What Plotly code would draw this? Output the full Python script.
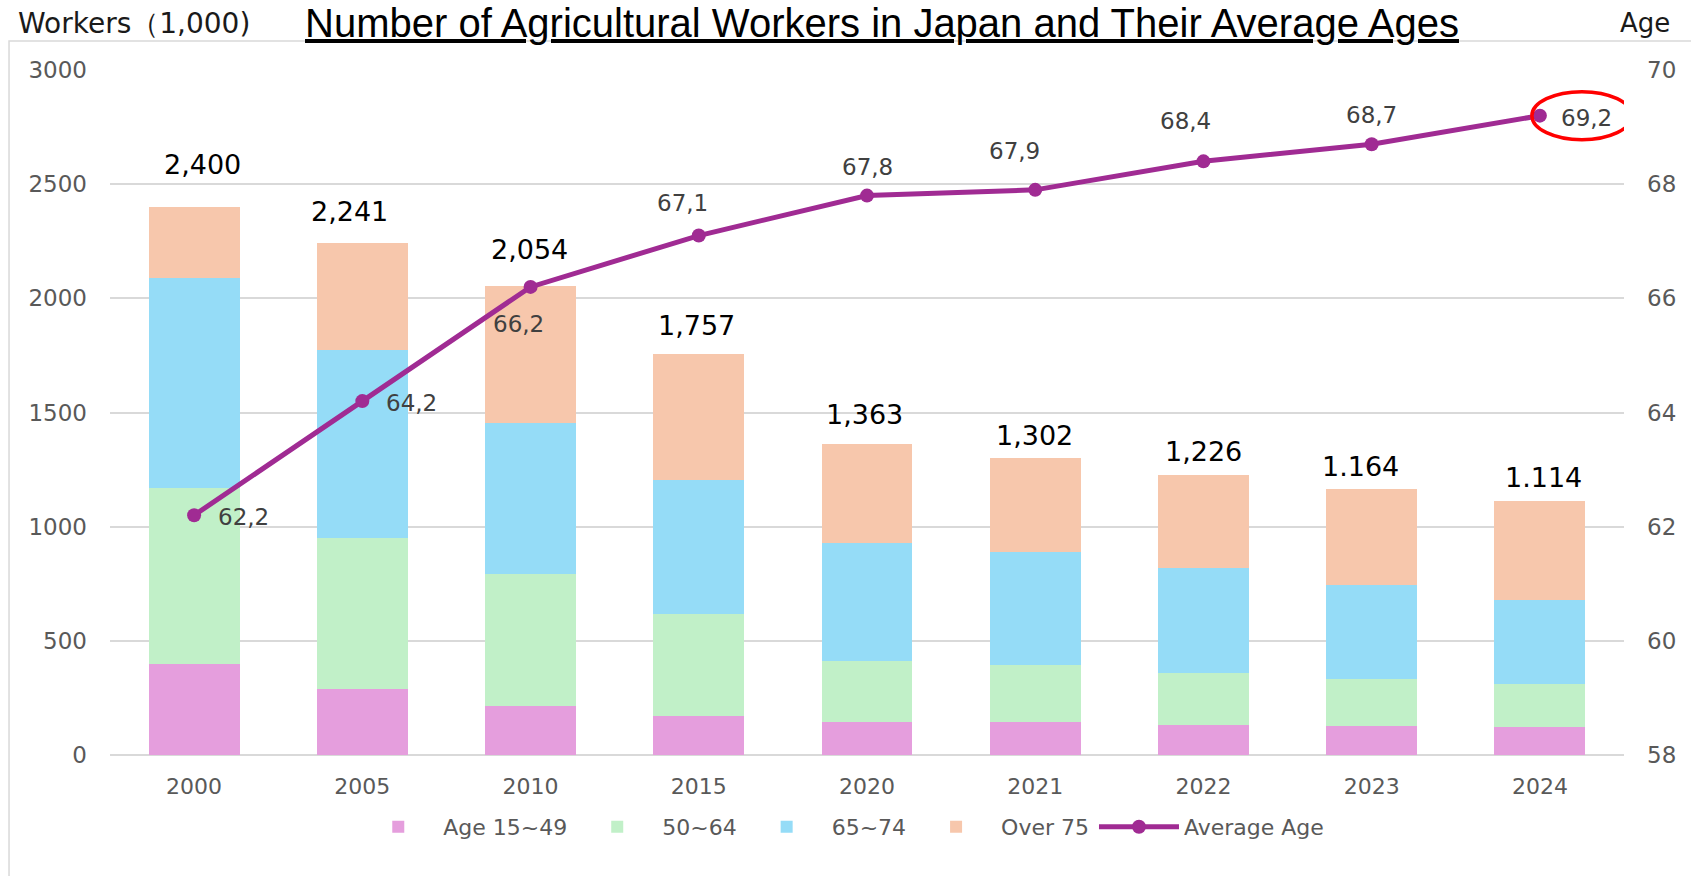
import plotly.graph_objects as go

years = ["2000", "2005", "2010", "2015", "2020", "2021", "2022", "2023", "2024"]

# workers by age band (1,000 people)
age_15_49 = [400, 291, 214, 173, 146, 145, 133, 127, 123]
age_50_64 = [770, 660, 577, 444, 267, 250, 228, 208, 188]
age_65_74 = [919, 822, 664, 589, 514, 493, 457, 410, 368]
age_75_up = [311, 468, 599, 551, 436, 414, 408, 419, 435]
total_labels = ["2,400", "2,241", "2,054", "1,757", "1,363", "1,302", "1,226", "1.164", "1.114"]

avg_age = [62.2, 64.2, 66.2, 67.1, 67.8, 67.9, 68.4, 68.7, 69.2]

# label nudges in pixels (x, y) - the original labels were hand placed
total_shift = [(8, 43), (-13, 32), (-1, 37), (-2, 28), (-3, 29), (-1, 22), (0, 24), (-11, 23), (4, 23)]
age_shift = [(49, -2), (49, -2), (-12, -37), (-16, 33), (0, 29), (-21, 39), (-18, 40), (0, 29), (47, -2)]

FONT = "DejaVu Sans"
GRID = "#D9D9D9"
TICK = "#595959"

fig = go.Figure()

bands = [
    ("Age 15~49", age_15_49, "#E59EDD"),
    ("50~64", age_50_64, "#C1F0C8"),
    ("65~74", age_65_74, "#95DCF7"),
    ("Over 75", age_75_up, "#F7C7AC"),
]
for name, vals, color in bands:
    fig.add_trace(go.Bar(
        x=years, y=vals, name=name,
        marker=dict(color=color, line=dict(width=0)),
        hoverinfo="skip",
    ))

fig.add_trace(go.Scatter(
    x=years, y=avg_age, name="Average Age", yaxis="y2",
    mode="lines+markers",
    line=dict(color="#A02B93", width=5),
    marker=dict(color="#A02B93", size=14),
))

# category axis with numeric-looking names -> annotations use the category index
totals = [sum(v) for v in zip(age_15_49, age_50_64, age_65_74, age_75_up)]
annotations = []
for i, (tot, lab, (dx, dy)) in enumerate(zip(totals, total_labels, total_shift)):
    annotations.append(dict(
        x=i, y=tot, xref="x", yref="y", text=lab, showarrow=False,
        xshift=dx, yshift=dy, xanchor="center", yanchor="middle",
        font=dict(family=FONT, size=27, color="#000000"),
    ))
for i, (a, (dx, dy)) in enumerate(zip(avg_age, age_shift)):
    annotations.append(dict(
        x=i, y=a, xref="x", yref="y2", text=f"{a:.1f}".replace(".", ","),
        showarrow=False, xshift=dx, yshift=dy, xanchor="center", yanchor="middle",
        font=dict(family=FONT, size=23, color="#404040"),
    ))

annotations.append(dict(
    x=-0.062, y=1.068, xref="paper", yref="paper", text="Workers（1,000)",
    showarrow=False, xanchor="left", yanchor="middle",
    font=dict(family=FONT, size=28, color="#1A1A1A"),
))
annotations.append(dict(
    x=1.0317, y=1.068, xref="paper", yref="paper", text="Age",
    showarrow=False, xanchor="right", yanchor="middle",
    font=dict(family=FONT, size=26, color="#1A1A1A"),
))

shapes = [
    # light frame around the chart
    dict(type="rect", xref="paper", yref="paper", x0=-0.0667, x1=1.2, y0=-0.5, y1=1.0423,
         line=dict(color=GRID, width=1.5), layer="below"),
    # red ellipse highlighting the latest average age
    dict(type="circle", xref="x", yref="y2",
         xsizemode="pixel", ysizemode="pixel",
         xanchor=years.index("2024"), yanchor=avg_age[-1],
         x0=-8, x1=92, y0=-24, y1=24,
         line=dict(color="#FF0000", width=3.5)),
]

fig.update_layout(
    width=1691, height=876,
    barmode="stack", bargap=0.46,
    paper_bgcolor="#FFFFFF", plot_bgcolor="#FFFFFF",
    margin=dict(l=110, r=67, t=70, b=121),
    title=dict(
        text="<u>Number of Agricultural Workers in Japan and Their Average Ages</u>",
        xref="container", yref="container", x=882 / 1691, y=1 - 23 / 876,
        xanchor="center", yanchor="middle",
        font=dict(family="Liberation Sans", size=40, color="#000000"),
    ),
    xaxis=dict(
        type="category", range=[-0.5, len(years) - 0.5], autorange=False,
        showgrid=False, showline=False, ticks="",
        tickfont=dict(family=FONT, size=22, color=TICK), ticklabelstandoff=16,
    ),
    yaxis=dict(
        range=[0, 3000], dtick=500, showgrid=True, gridcolor=GRID, gridwidth=1.5,
        zeroline=True, zerolinecolor=GRID, zerolinewidth=1.5, showline=False,
        tickformat="d", ticks="",
        tickfont=dict(family=FONT, size=23, color=TICK), ticklabelstandoff=22,
    ),
    yaxis2=dict(
        range=[58, 70], dtick=2, overlaying="y", side="right",
        showgrid=False, zeroline=False, showline=False, ticks="",
        tickfont=dict(family=FONT, size=23, color=TICK), ticklabelstandoff=22,
    ),
    legend=dict(
        orientation="h", x=0.483, y=-0.105, xanchor="center", yanchor="middle",
        font=dict(family=FONT, size=22, color=TICK), traceorder="normal",
        itemwidth=80, bgcolor="rgba(0,0,0,0)",
    ),
    annotations=annotations,
    shapes=shapes,
    showlegend=True,
)

# drop the browser's default body margin so the figure sits at the page corner
fig.write_html(
    "out.html",
    config={"displayModeBar": False},
    post_script="document.body.style.margin = '0';",
)
